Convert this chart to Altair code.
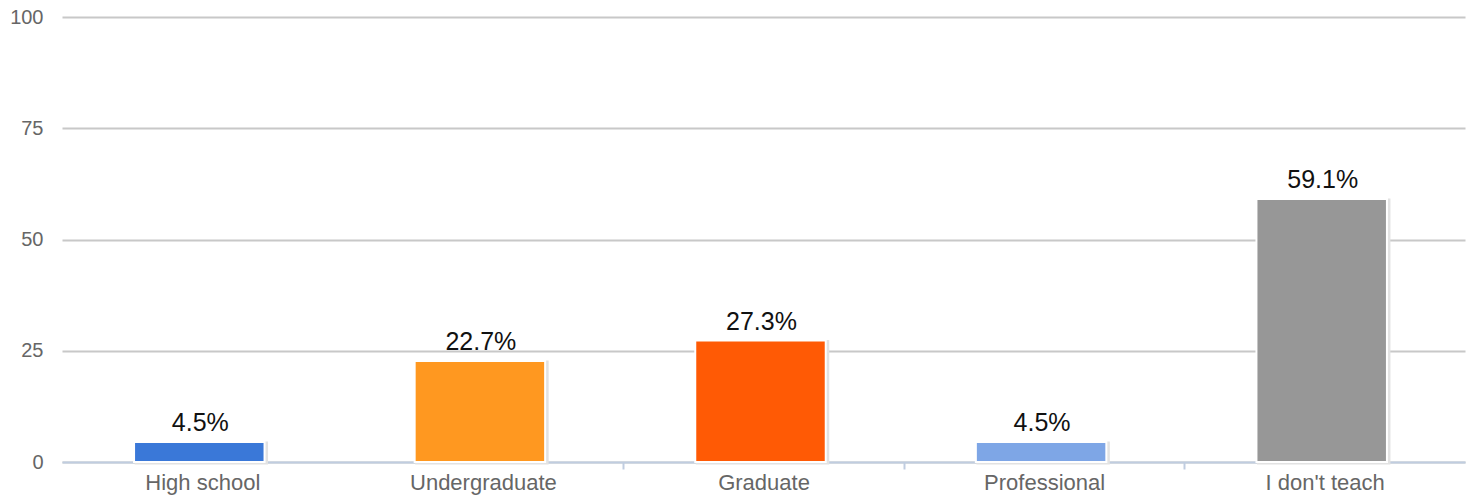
import altair as alt
import pandas as pd

categories = ["High school", "Undergraduate", "Graduate", "Professional", "I don't teach"]
values = [4.5, 22.7, 27.3, 4.5, 59.1]
labels = ["4.5%", "22.7%", "27.3%", "4.5%", "59.1%"]
colors = ["#3a78d8", "#ff9820", "#ff5a05", "#7ea6e6", "#979797"]

df = pd.DataFrame({"cat": categories, "val": values, "lab": labels})

FONT = "Arial"

x = alt.X("cat:N", sort=categories, title=None,
          scale=alt.Scale(paddingInner=0, paddingOuter=0),
          axis=alt.Axis(labelAngle=0, labelFont=FONT, labelFontSize=22, labelColor="#666666",
                        labelPadding=3, domainColor="#c0cde0", domainWidth=2,
                        tickColor="#c0cde0", tickWidth=2, tickSize=7, tickBand="extent",
                        tickOpacity={"expr": "datum.index > 0 && datum.index < 1 ? 1 : 0"},
                        grid=False))
y = alt.Y("val:Q", title=None,
          scale=alt.Scale(domain=[0, 100], nice=False),
          axis=alt.Axis(values=[0, 25, 50, 75, 100], labelFont=FONT, labelFontSize=20,
                        labelColor="#666666", labelPadding=19, tickSize=0, domain=False,
                        gridColor="#c8c8c8", gridWidth=2))

color = alt.Color("cat:N", scale=alt.Scale(domain=categories, range=colors), legend=None)

shadow = alt.Chart(df).mark_bar(width=alt.RelativeBandSize(0.465), color="#d4d4d4",
                                xOffset=-1, yOffset=1, stroke="#e2e2e2", strokeWidth=3).encode(
    x=x, y=y,
)
bars = alt.Chart(df).mark_bar(width=alt.RelativeBandSize(0.465), stroke="white", strokeWidth=2,
                              xOffset=-3).encode(
    x=x, y=y, color=color,
)
text = alt.Chart(df).mark_text(font=FONT, fontSize=25, color="#111111", baseline="bottom",
                               dy=-6, dx=-2).encode(
    x=x, y=y, text="lab:N"
)

chart = alt.layer(shadow, bars, text).properties(
    width=1403, height=445,
    autosize=alt.AutoSizeParams(type="none"),
    padding={"left": 62, "top": 17, "right": 10, "bottom": 35},
).configure_view(stroke=None)

chart.save("out.html", embed_options={"renderer": "svg", "actions": False})
